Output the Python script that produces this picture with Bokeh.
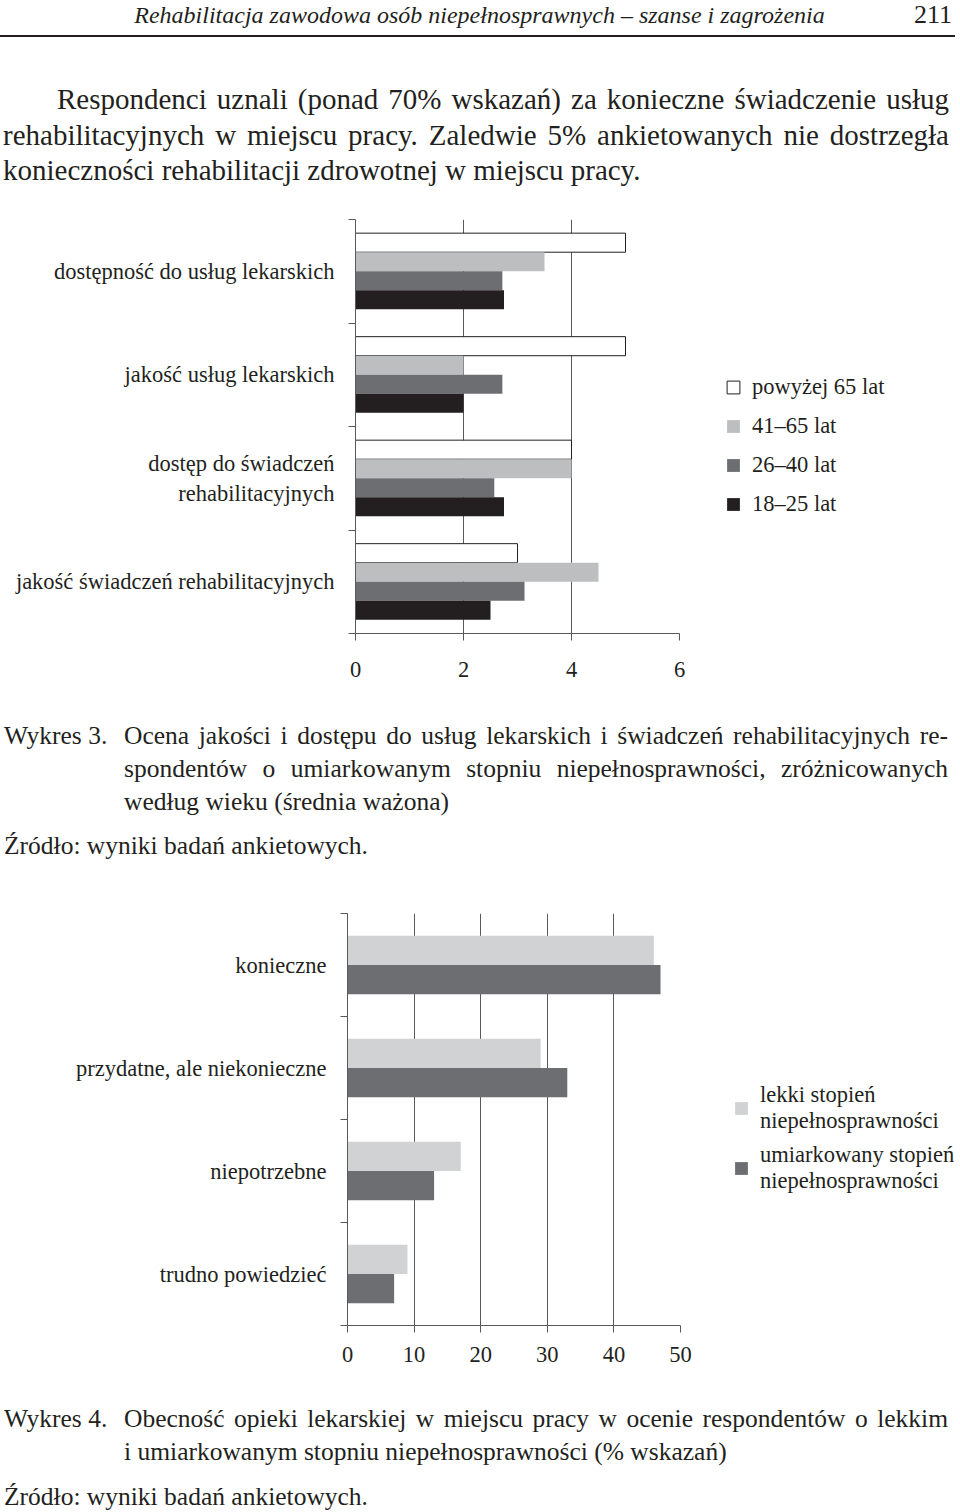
import html
from bokeh.plotting import figure
from bokeh.models import Range1d, FixedTicker, ColumnDataSource, Legend, LegendItem, Div
from bokeh.layouts import column, row
from bokeh.transform import dodge
from bokeh.embed import file_html
from bokeh.resources import INLINE

# ---------------- data ----------------
header_title = "Rehabilitacja zawodowa osób niepełnosprawnych – szanse i zagrożenia"
page_number = "211"
paragraph_lines = [
    "Respondenci uznali (ponad 70% wskazań) za konieczne świadczenie usług",
    "rehabilitacyjnych w miejscu pracy. Zaledwie 5% ankietowanych nie dostrzegła",
    "konieczności rehabilitacji zdrowotnej w miejscu pracy.",
]

c1_categories = [
    "dostępność do usług lekarskich",
    "jakość usług lekarskich",
    "dostęp do świadczeń\nrehabilitacyjnych",
    "jakość świadczeń rehabilitacyjnych",
]
c1_series = ["powyżej 65 lat", "41–65 lat", "26–40 lat", "18–25 lat"]
c1_over65 = [5.0, 5.0, 4.0, 3.0]
c1_41_65 = [3.5, 2.0, 4.0, 4.5]
c1_26_40 = [2.72, 2.72, 2.57, 3.13]
c1_18_25 = [2.75, 2.0, 2.75, 2.5]
c1_ticks = [0, 2, 4, 6]

caption3_label = "Wykres 3."
caption3_lines = [
    "Ocena jakości i dostępu do usług lekarskich i świadczeń rehabilitacyjnych re-",
    "spondentów o umiarkowanym stopniu niepełnosprawności, zróżnicowanych",
    "według wieku (średnia ważona)",
]
source_text = "Źródło: wyniki badań ankietowych."

c2_categories = ["konieczne", "przydatne, ale niekonieczne", "niepotrzebne", "trudno powiedzieć"]
c2_series = ["lekki stopień\nniepełnosprawności", "umiarkowany stopień\nniepełnosprawności"]
c2_lekki = [46, 29, 17, 9]
c2_umiarkowany = [47, 33, 13, 7]
c2_ticks = [0, 10, 20, 30, 40, 50]

caption4_label = "Wykres 4."
caption4_lines = [
    "Obecność opieki lekarskiej w miejscu pracy w ocenie respondentów o lekkim",
    "i umiarkowanym stopniu niepełnosprawności (% wskazań)",
]

# ---------------- styles ----------------
FONT = "Liberation Serif"
INK = "#231f20"
AXIS = "#58595b"
W = 955
CHART_FS = "22.5px"


def make_chart(cats, names, values, fills, lines, ticks, bar_h, frame_w, frame_h,
               b_left, b_top, b_bottom, b_right, x_standoff, legend_loc, glyph,
               standoff, spacing):
    n = len(cats)
    p = figure(frame_width=frame_w, frame_height=frame_h,
               x_range=Range1d(ticks[0], ticks[-1]), y_range=Range1d(n, 0),
               output_backend="svg", toolbar_location=None,
               min_border_left=b_left, min_border_top=b_top,
               min_border_bottom=b_bottom, min_border_right=b_right)
    p.outline_line_color = None
    p.background_fill_color = "white"
    p.border_fill_color = "white"

    data = {"pos": [i + 0.5 for i in range(n)]}
    for k, v in enumerate(values):
        data["s%d" % k] = v
    src = ColumnDataSource(data)
    m = len(values)
    items = []
    for k in range(m):
        off = (k - (m - 1) / 2.0) * bar_h
        r = p.hbar(y=dodge("pos", off, range=p.y_range), left=0, right="s%d" % k,
                   height=bar_h, fill_color=fills[k], line_color=lines[k],
                   line_width=1, source=src)
        items.append(LegendItem(label=names[k], renderers=[r]))

    # x axis
    xt = FixedTicker(ticks=ticks)
    p.xaxis.ticker = xt
    p.xgrid.ticker = xt
    p.xgrid.grid_line_color = AXIS
    p.xgrid.grid_line_width = 1
    p.ygrid.grid_line_color = None
    p.xaxis.axis_line_color = AXIS
    p.xaxis.major_tick_line_color = AXIS
    p.xaxis.major_tick_out = 7
    p.xaxis.major_tick_in = 0
    p.xaxis.minor_tick_line_color = None
    p.xaxis.major_label_text_font = FONT
    p.xaxis.major_label_text_font_size = CHART_FS
    p.xaxis.major_label_text_color = INK
    p.xaxis.major_label_standoff = x_standoff

    # y axis: labels at category centres, ticks at category boundaries
    centers = [i + 0.5 for i in range(n)]
    p.yaxis.ticker = FixedTicker(ticks=centers, minor_ticks=list(range(n + 1)))
    p.yaxis.major_label_overrides = {c: lab for c, lab in zip(centers, cats)}
    p.yaxis.axis_line_color = AXIS
    p.yaxis.major_tick_out = 0
    p.yaxis.major_tick_in = 0
    p.yaxis.major_tick_line_color = None
    p.yaxis.minor_tick_line_color = AXIS
    p.yaxis.minor_tick_out = 7
    p.yaxis.minor_tick_in = 0
    p.yaxis.major_label_text_font = FONT
    p.yaxis.major_label_text_font_size = CHART_FS
    p.yaxis.major_label_text_color = INK
    p.yaxis.major_label_standoff = 14

    legend = Legend(items=items, location=legend_loc, orientation="vertical",
                    border_line_color=None, background_fill_alpha=0,
                    label_text_font=FONT, label_text_font_size=CHART_FS,
                    label_text_color=INK, glyph_width=glyph, glyph_height=glyph,
                    label_standoff=standoff, spacing=spacing, padding=0, margin=0)
    p.add_layout(legend, "right")
    return p


p1 = make_chart(c1_categories, c1_series, [c1_over65, c1_41_65, c1_26_40, c1_18_25],
                ["white", "#bcbec0", "#6d6e71", "#231f20"],
                [INK, None, None, None], c1_ticks, 0.184,
                324, 414, 355, 19, 67, 276, 21, (46, 116), 16, 11, 13)

p2 = make_chart(c2_categories, c2_series, [c2_lekki, c2_umiarkowany],
                ["#d1d2d4", "#6d6e71"], [None, None], c2_ticks, 0.285,
                333, 412, 347, 28, 55, 275, 14, (53, 131), 16, 11, 8)


def esc(s):
    return html.escape(s)


base = "font-family:'%s'; color:%s;" % (FONT, INK)

header_html = (
    '<div style="position:relative; width:%dpx; height:46px; %s">' % (W, base)
    + '<div style="position:absolute; left:0; top:3px; width:%dpx; text-align:center; '
      'font-style:italic; font-size:24px; line-height:24px;">%s</div>' % (W + 4, esc(header_title))
    + '<div style="position:absolute; right:3px; top:2px; font-size:26px; line-height:26px;">%s</div>' % esc(page_number)
    + '<div style="position:absolute; left:0; top:35px; width:%dpx; border-top:2px solid %s;"></div>' % (W, INK)
    + '</div>'
)

just = "text-align:justify; text-align-last:justify;"
par_html = ('<div style="%s font-size:29px; line-height:35.5px; padding-top:36px; '
            'padding-left:3px; width:949px;">' % base)
for i, line in enumerate(paragraph_lines):
    st = just if i < len(paragraph_lines) - 1 else "text-align:left;"
    if i == 0:
        st += " text-indent:54px;"
    par_html += '<div style="%s">%s</div>' % (st, esc(line))
par_html += '</div>'


def caption_html(label, lines, pad, gap, src_lh):
    h = ('<div style="%s font-size:25.5px; line-height:33px; padding-top:%spx; '
         'padding-left:4px; width:948px;">' % (base, pad))
    h += '<div style="display:flex;"><div style="width:120px; flex:none;">%s</div><div style="flex:1;">' % esc(label)
    for i, line in enumerate(lines):
        st = just if i < len(lines) - 1 else "text-align:left;"
        h += '<div style="%s">%s</div>' % (st, esc(line))
    h += '</div></div>'
    h += '<div style="margin-top:%spx; line-height:%spx;">%s</div>' % (gap, src_lh, esc(source_text))
    h += '</div>'
    return h


d_header = Div(text=header_html, width=W, height=46, margin=0)
d_par = Div(text=par_html, width=W, height=154, margin=0)
d_cap3 = Div(text=caption_html(caption3_label, caption3_lines, 18.5, 11, 33), width=W, height=185, margin=0)
d_cap4 = Div(text=caption_html(caption4_label, caption4_lines, 21.5, 16.5, 26), width=W, height=130, margin=0)

layout = column(d_header, d_par, row(p1), d_cap3, row(p2), d_cap4, spacing=0)

with open("out.html", "w") as f:
    f.write(file_html(layout, INLINE))
